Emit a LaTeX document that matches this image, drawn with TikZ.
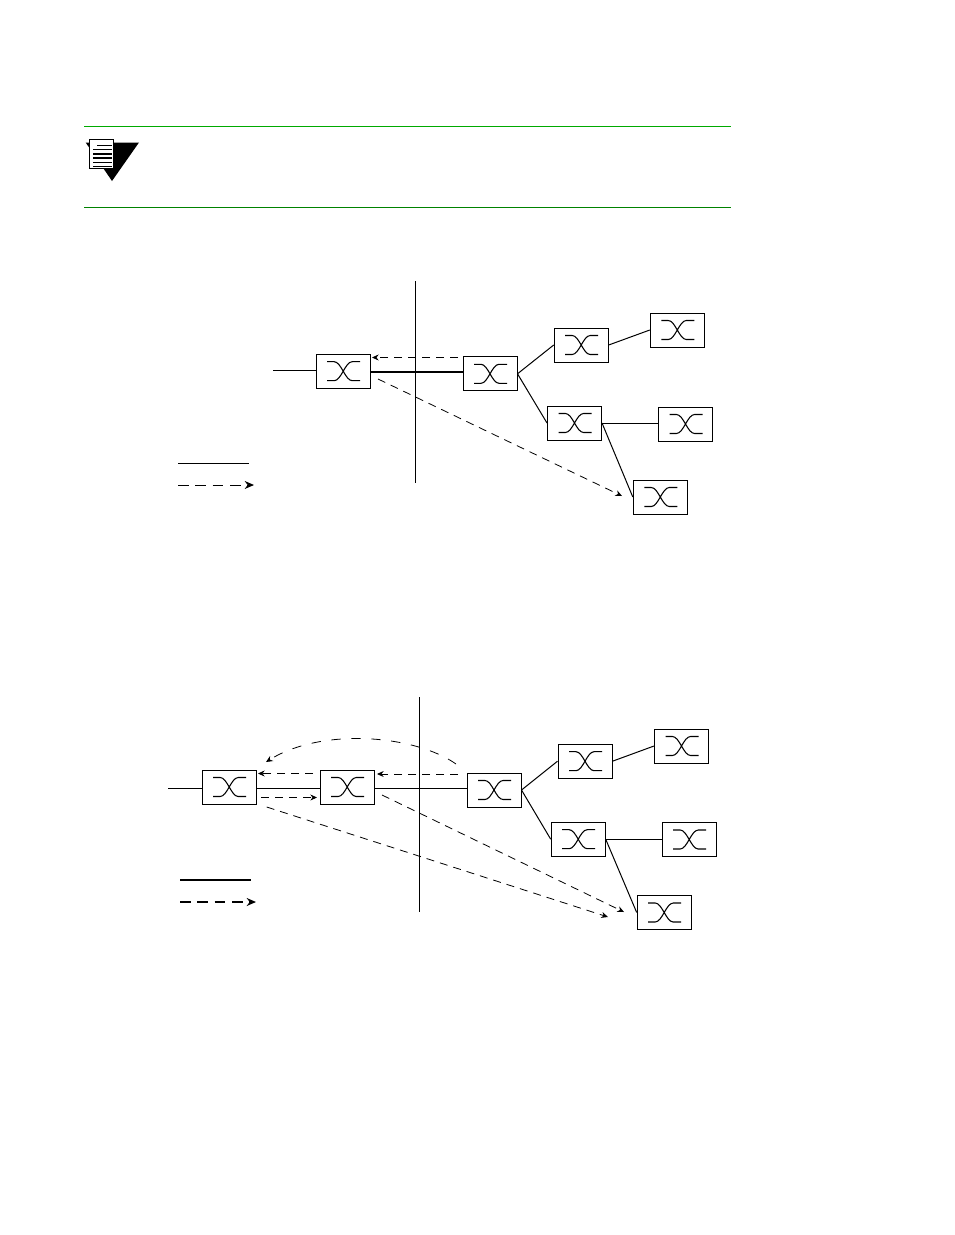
\documentclass[tikz,border=0pt]{standalone}
\usepackage{amsmath,amsfonts,amssymb}
\usetikzlibrary{arrows.meta}
\definecolor{notegreen}{RGB}{0,170,0}
\definecolor{notedark}{RGB}{0,130,0}

\begin{document}
\begin{tikzpicture}[x=0.75pt,y=-0.75pt,>={Stealth[length=5pt,width=4.5pt]},line width=0.75pt,
        switchbox/.style={draw,rectangle,line width=0.75pt,inner sep=0pt,minimum width=40.5pt,minimum height=25.5pt,
            path picture={\draw[line width=0.8pt,shift={(path picture bounding box.center)}]
                (-16,-9.5) -- (-9,-9.5) .. controls (-2,-9.5) and (2,9.5) .. (9,9.5) -- (17,9.5)
                (-16,9.5) -- (-9,9.5) .. controls (-2,9.5) and (2,-9.5) .. (9,-9.5) -- (17,-9.5);}},
        signal/.style={->,line width=0.6pt,dash pattern=on 6pt off 4.5pt},
        arcsignal/.style={->,line width=0.6pt,dash pattern=on 7pt off 8pt},
        legendsignal/.style={->,>={Stealth[length=7pt,width=6pt]},dash pattern=on 8pt off 5pt}]
        \useasboundingbox (0,0) rectangle (954,1235);

        \coordinate (topgreen) at (84,126.7);
        \coordinate (topgreenend) at (731,126.7);
        \coordinate (lowgreen) at (84,207.5);
        \coordinate (lowgreenend) at (731,207.5);
        \draw[draw=notegreen,line width=0.9pt] (topgreen) -- (topgreenend);
        \draw[draw=notedark,line width=0.9pt] (lowgreen) -- (lowgreenend);

        \fill (85.7,142.5) -- (139,142.5) -- (112,181) -- cycle;
        \draw[fill=white] (89.3,139) rectangle (113.7,168.3);
        \draw (97,145) -- (112,145);
        \draw[line width=1.2pt] (93,149.5) -- (112,149.5) (93,153.7) -- (112,153.7) (93,157.8) -- (112,157.8);
        \draw (93,162) -- (112,162) (93,166) -- (112,166);

        \node[switchbox] (a1) at (343.2,371.2) {};
        \node[switchbox] (a2) at (490,373.8) {};
        \node[switchbox] (a3) at (581.2,345) {};
        \node[switchbox] (a4) at (677.3,330) {};
        \node[switchbox] (a5) at (574.5,423) {};
        \node[switchbox] (a6) at (685.5,424) {};
        \node[switchbox] (a7) at (660.3,497) {};

        \coordinate (lead1) at (273,370);
        \coordinate (thick1) at (415,371.7);
        \coordinate (bartop1) at (415,281);
        \coordinate (barbot1) at (415,483);
        \coordinate (sig1a) at (458,357.5);
        \coordinate (sig1b) at (372,357.5);
        \coordinate (sig1c) at (378,379);
        \coordinate (sig1d) at (622,496);
        \coordinate (key1a) at (178,463);
        \coordinate (key1b) at (249,463);
        \coordinate (key1c) at (178,485);
        \coordinate (key1d) at (254,485);

        \draw (lead1) -- (a1.west |- lead1);
        \draw (bartop1) -- (barbot1);
        \draw[line width=1.6pt] (a1.east |- thick1) -- (a2.west |- thick1);
        \draw (a2.east) -- (a3.west);
        \draw (a2.east) -- (a5.west);
        \draw (a3.east) -- (a4.west);
        \draw (a5.east) -- (a6.west |- a5.east);
        \draw (a5.east) -- (a7.west);
        \draw[signal] (sig1a) -- (sig1b);
        \draw[signal] (sig1c) -- (sig1d);
        \draw (key1a) -- (key1b);
        \draw[legendsignal] (key1c) -- (key1d);

        \node[switchbox] (b1) at (229.2,787) {};
        \node[switchbox] (b2) at (347.2,787) {};
        \node[switchbox] (b3) at (494,790) {};
        \node[switchbox] (b4) at (585,761.2) {};
        \node[switchbox] (b5) at (681.5,746) {};
        \node[switchbox] (b6) at (578.2,839.2) {};
        \node[switchbox] (b7) at (689.2,839.5) {};
        \node[switchbox] (b8) at (664.2,912.5) {};

        \coordinate (lead2) at (168,788);
        \coordinate (bartop2) at (419.5,697);
        \coordinate (barbot2) at (419.5,912);
        \coordinate (sig2a) at (313,773.5);
        \coordinate (sig2b) at (258,773.5);
        \coordinate (sig2c) at (458,774);
        \coordinate (sig2d) at (377,774);
        \coordinate (sig2e) at (261,797.5);
        \coordinate (sig2f) at (317,797.5);
        \coordinate (sig2g) at (456,764);
        \coordinate (sig2h) at (266,762);
        \coordinate (sig2i) at (382,795);
        \coordinate (sig2j) at (624,912);
        \coordinate (sig2k) at (266.7,807);
        \coordinate (sig2l) at (608,917);
        \coordinate (key2a) at (180,880);
        \coordinate (key2b) at (251,880);
        \coordinate (key2c) at (180,902);
        \coordinate (key2d) at (256,902);

        \draw (lead2) -- (b1.west |- lead2);
        \draw (bartop2) -- (barbot2);
        \draw (b1.east |- lead2) -- (b2.west |- lead2);
        \draw (b2.east |- lead2) -- (b3.west |- lead2);
        \draw (b3.east) -- (b4.west);
        \draw (b3.east) -- (b6.west);
        \draw (b4.east) -- (b5.west);
        \draw (b6.east) -- (b7.west |- b6.east);
        \draw (b6.east) -- (b8.west);
        \draw[signal] (sig2a) -- (sig2b);
        \draw[signal] (sig2c) -- (sig2d);
        \draw[signal] (sig2e) -- (sig2f);
        \draw[arcsignal] (sig2g) .. controls (415,735) and (322,727) .. (sig2h);
        \draw[signal] (sig2i) -- (sig2j);
        \draw[signal] (sig2k) -- (sig2l);
        \draw[line width=1.5pt] (key2a) -- (key2b);
        \draw[legendsignal,line width=1.5pt] (key2c) -- (key2d);
\end{tikzpicture}
\end{document}
